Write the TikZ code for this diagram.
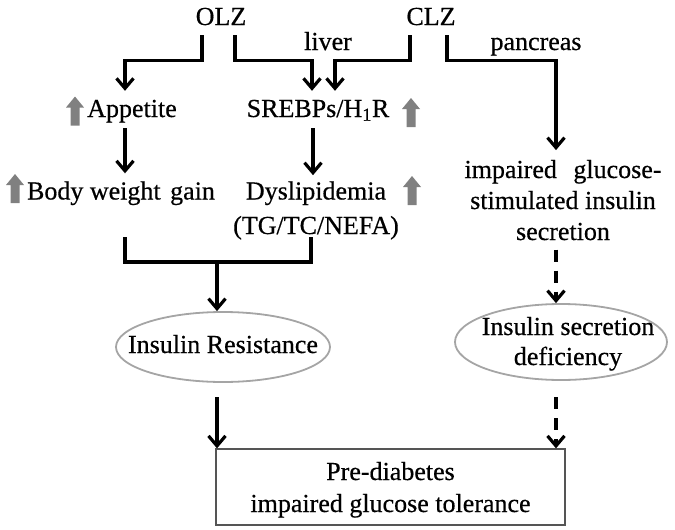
\documentclass[tikz,border=0pt]{standalone}
\usepackage{fontspec}
\setmainfont{Liberation Serif}[FakeBold=0.5]
\usetikzlibrary{arrows.meta,shapes.geometric}
\definecolor{ag}{RGB}{128,128,128}
\definecolor{eg}{RGB}{165,165,165}
\definecolor{bg}{RGB}{85,85,85}
\newcommand\fs{\fontsize{26}{31}\selectfont}
\begin{document}
\begin{tikzpicture}[x=1pt,y=-1pt,
  conn/.style={line width=3.2pt, draw=black},
  arr/.style={conn, -{Straight Barb[length=10pt,width=17pt]}},
  dsh/.style={arr, dash pattern=on 12pt off 9pt},
  lbl/.style={font=\fs, inner xsep=0pt, inner ysep=8pt, text height=18pt, text depth=6pt, anchor=base},
  mlbl/.style={inner sep=0pt, anchor=base},
  oval/.style={ellipse, draw=eg, line width=1.8pt, inner sep=0pt},
  uparrow/.pic={\fill[ag] (-4.5,0) -- (-4.5,-18) -- (-9,-18) -- (0,-29) -- (9,-18) -- (4.5,-18) -- (4.5,0) -- cycle;}
]
\useasboundingbox (0,0) rectangle (675,530);

% text nodes
\node[lbl] (olz) at (221,25) {OLZ};
\node[lbl] (clz) at (431,25) {CLZ};
\node[lbl] (liver) at (328,50) {liver};
\node[lbl] (pancreas) at (536,50) {pancreas};
\node[lbl] (app) at (132,117) {Appetite};
\node[lbl] (sreb) at (318,117) {SREBPs/H\textsubscript{1}R};
\node[lbl] (body) at (121,199.5) {Body weight\hspace{3pt} gain};
\node[mlbl, font=\fontsize{26}{34.5}\selectfont] (dys) at (316,199.5)
  {\begin{tabular}[t]{@{}c@{}}Dyslipidemia\\(TG/TC/NEFA)\end{tabular}};
\node[mlbl, font=\fontsize{26}{31}\selectfont] (igs) at (563,178)
  {\begin{tabular}[t]{@{}c@{}}impaired\hspace{10pt} glucose-\\stimulated insulin\\secretion\end{tabular}};

% ovals
\node[oval, minimum width=214pt, minimum height=70pt] (ir) at (223,347) {};
\node[lbl] (irt) at (223,353) {Insulin Resistance};
\node[oval, minimum width=212pt, minimum height=76pt] (isd) at (561,342) {};
\node[mlbl, font=\fontsize{26}{30}\selectfont] (isdt) at (568,335)
  {\begin{tabular}[t]{@{}c@{}}Insulin secretion\\deficiency\end{tabular}};

% result box
\node[draw=bg, line width=1.3pt, minimum width=349pt, minimum height=76pt, inner sep=0pt,
  font=\fontsize{26}{32}\selectfont, text height=16pt, text depth=30pt] (pre) at (390.5,487)
  {\begin{tabular}[t]{@{}c@{}}Pre-diabetes\\impaired glucose tolerance\end{tabular}};

% gray up arrows
\pic at (75,125.5) {uparrow};
\pic at (411,127) {uparrow};
\pic at (15,203) {uparrow};
\pic at (412,205) {uparrow};

% connectors
\coordinate (ey) at (0,60.5);
\coordinate (o1) at (202,35);
\coordinate (o2) at (235,35);
\coordinate (c1) at (410,35);
\coordinate (c2) at (447,35);
\draw[arr] (o1) -- (o1 |- ey) -| ([xshift=-7pt]app.north);
\draw[arr] (o2) -- (o2 |- ey) -| ([xshift=-6pt]sreb.north);
\draw[arr] (c1) -- (c1 |- ey) -| ([xshift=17pt]sreb.north);
\draw[arr] (c2) -- (c2 |- ey) -| ([xshift=-7pt,yshift=6pt]igs.north);
\draw[arr] ([xshift=-7pt,yshift=3pt]app.south) -- ([xshift=4pt]body.north);
\draw[arr] ([xshift=-5pt,yshift=3pt]sreb.south) -- ([xshift=-3pt]dys.north);

\coordinate (bl) at (125,237);
\coordinate (br) at (311,237);
\coordinate (bm) at (217,262);
\draw[conn] (bl) |- (bm) -| (br);
\draw[arr] (bm) -- (bm |- ir.north);

\coordinate (igsout) at ([xshift=-7pt]igs.south);
\draw[dsh] (igsout) -- (igsout |- isd.north);

\coordinate (irout) at (217,397);
\draw[arr] (irout) -- (irout |- pre.north);
\coordinate (isdout) at (556,397);
\draw[dsh] (isdout) -- (isdout |- pre.north);
\end{tikzpicture}
\end{document}
